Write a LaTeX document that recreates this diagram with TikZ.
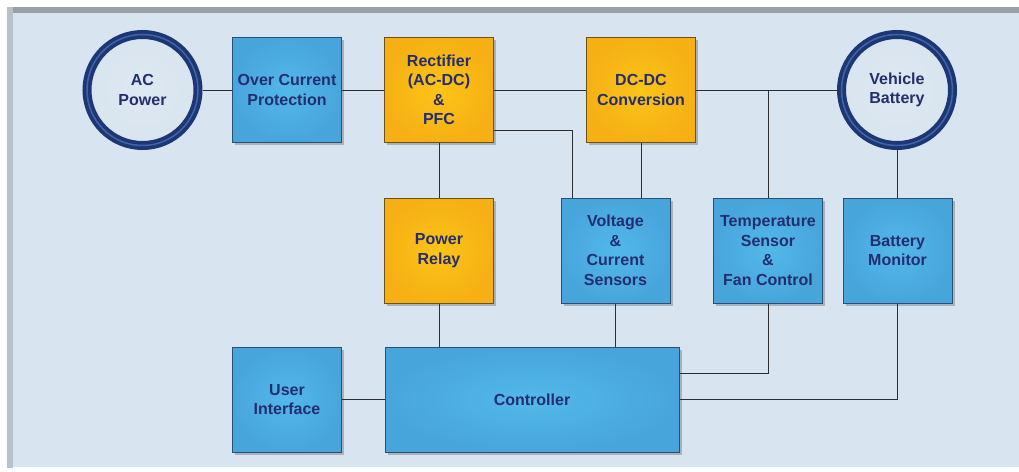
\documentclass[tikz,border=0pt]{standalone}
\usepackage{fontspec}
\setmainfont{Liberation Sans}
\usepackage{tikz}
\usetikzlibrary{shadows, calc, backgrounds}
\definecolor{panelBlue}{RGB}{216,228,239}
\definecolor{frameGray}{RGB}{150,161,170}
\definecolor{frameLight}{RGB}{182,194,203}
\definecolor{boxBlue}{RGB}{82,184,234}
\definecolor{boxBlueDark}{RGB}{72,165,220}
\definecolor{boxEdge}{RGB}{40,80,115}
\definecolor{boxGold}{RGB}{252,196,24}
\definecolor{boxGoldDark}{RGB}{246,176,20}
\definecolor{goldEdge}{RGB}{110,82,20}
\definecolor{textNavy}{RGB}{36,46,110}
\definecolor{ringNavy}{RGB}{28,55,118}
\definecolor{ringLight}{RGB}{66,100,165}
\definecolor{wireGray}{RGB}{45,45,50}

\begin{document}
\begin{tikzpicture}[x=1pt, y=-1pt,
  box/.style={rectangle, draw=boxEdge, line width=1pt, inner color=boxBlue, outer color=boxBlueDark,
              minimum width=109pt, minimum height=105pt, inner sep=0pt, align=center, text=textNavy,
              font=\fontsize{16}{19.5}\selectfont\bfseries,
              drop shadow={shadow xshift=2.5pt, shadow yshift=-2.5pt, opacity=0.5}},
  goldbox/.style={box, draw=goldEdge, inner color=boxGold, outer color=boxGoldDark},
  ring/.style={circle, draw=ringNavy, line width=9pt, inner color=panelBlue!85!white, outer color=panelBlue,
               minimum size=111pt, inner sep=0pt, align=center, text=textNavy,
               font=\fontsize{16}{19.5}\selectfont\bfseries,
               postaction={draw=ringLight, line width=1.5pt},
               drop shadow={shadow xshift=2.5pt, shadow yshift=-2.5pt, opacity=0.35}},
  wire/.style={draw=wireGray, line width=1pt}
]
  \useasboundingbox (0,0) rectangle (1019,471);
  \fill[white] (0,0) rectangle (1019,471);
  \fill[frameGray] (7,7) rectangle (1019,13);
  \fill[frameLight] (7,7) rectangle (13,468);
  \fill[panelBlue] (13,13) rectangle (1019,467);

  \node[ring] (acin) at (142.5,90) {AC\\Power};
  \node[box] (ocp) at (287,90) {Over Current\\Protection};
  \node[goldbox] (rect) at (439,90) {Rectifier\\(AC-DC)\\\&\\PFC};
  \node[goldbox] (dcdc) at (641,90) {DC-DC\\Conversion};
  \node[ring] (batt) at (897,90) {Vehicle\\Battery};

  \node[goldbox] (relay) at (439,250.5) {Power\\Relay};
  \node[box] (sense) at (615.5,250.5) {Voltage\\\&\\Current\\Sensors};
  \node[box] (temp) at (768,250.5) {Temperature\\Sensor\\\&\\Fan Control};
  \node[box] (bmon) at (897.5,250.5) {Battery\\Monitor};

  \node[box] (ui) at (287,399.5) {User\\Interface};
  \node[box, minimum width=294pt] (ctrl) at (532,399.5) {Controller};

  \draw[wire] (acin.east) -- (ocp.west);
  \draw[wire] (ocp.east) -- (rect.west);
  \draw[wire] (rect.east) -- (dcdc.west);
  \draw[wire] (dcdc.east) -- (batt.west);
  \draw[wire] ([yshift=-40pt]rect.east) -| ([xshift=-43.5pt]sense.north);
  \draw[wire] (dcdc.south) -- (dcdc.south |- sense.north);
  \draw[wire] (temp.north) -- (temp.north |- dcdc.east);
  \draw[wire] (batt.south) -- (batt.south |- bmon.north);
  \draw[wire] (rect.south) -- (relay.north);
  \draw[wire] (relay.south) -- (relay.south |- ctrl.north);
  \draw[wire] (sense.south) -- (sense.south |- ctrl.north);
  \draw[wire] (temp.south) |- ([yshift=26.5pt]ctrl.east);
  \draw[wire] (bmon.south) |- (ctrl.east);
  \draw[wire] (ui.east) -- (ctrl.west);
\end{tikzpicture}
\end{document}
